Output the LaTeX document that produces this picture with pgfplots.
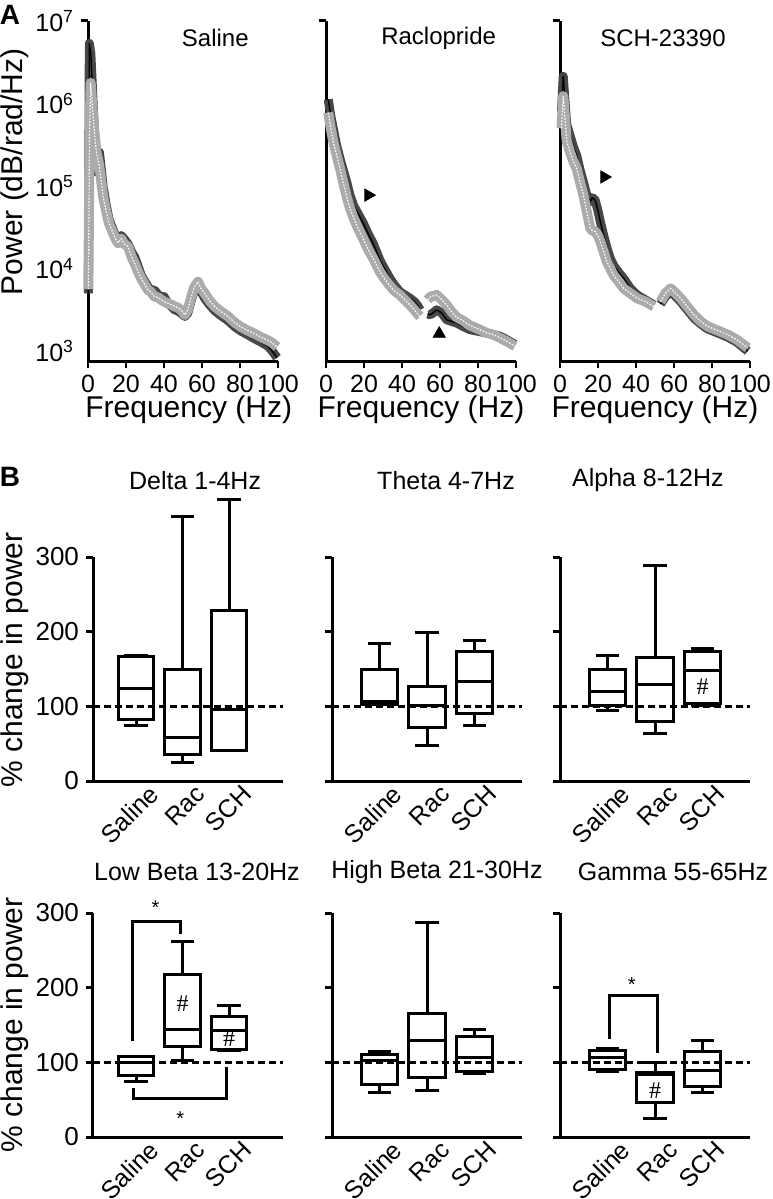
\documentclass[border=0pt]{standalone}
\usepackage{fontspec}
\setmainfont{Liberation Sans}
\newfontfamily\hashfont{Liberation Serif}
\usepackage{pgfplots}
\usepackage{pgfplotstable}
\pgfplotsset{compat=1.18}

% spectra: frequency (Hz), log10 power
\pgfplotstableread{
f p
0.2 3.70
0.7 6.73
1.5 6.60
2.5 6.10
3.5 5.60
4.4 5.17
5.3 5.30
6.0 5.41
7.0 5.20
8.0 4.98
9.5 4.78
11 4.60
13.2 4.47
14.5 4.40
15.8 4.36
17.5 4.40
19 4.36
21 4.30
23 4.20
24.6 4.14
26 4.05
28 3.92
30 3.84
31.6 3.78
33 3.74
35 3.74
37 3.68
38.6 3.66
40 3.66
42 3.58
44 3.54
45.6 3.50
47 3.49
49 3.46
51 3.42
52.5 3.46
54.4 3.62
56 3.74
57.9 3.82
59.5 3.72
61.4 3.64
64 3.56
66.7 3.49
70 3.43
73.7 3.37
77 3.30
80.7 3.24
84 3.20
87.7 3.15
91 3.11
94.7 3.06
97 3.00
99.5 2.92
}\salD
\pgfplotstableread{
f p
0.2 3.75
0.8 5.60
1.4 6.25
2.2 6.00
3.0 5.75
4.4 5.41
5.5 5.30
6.5 5.15
7.9 4.88
9.5 4.70
11 4.55
13.2 4.43
14.5 4.36
15.8 4.31
17.5 4.36
19 4.30
21 4.27
23 4.14
24.6 4.06
26 3.98
28 3.88
30 3.80
31.6 3.74
33 3.72
35 3.66
37 3.65
38.6 3.62
40 3.60
42 3.58
44 3.56
45.6 3.54
47 3.53
49 3.50
51 3.44
52.5 3.50
54.4 3.66
56 3.78
57.9 3.84
59.5 3.76
61.4 3.70
64 3.61
66.7 3.54
70 3.48
73.7 3.42
77 3.35
80.7 3.29
84 3.25
87.7 3.21
91 3.17
94.7 3.13
97 3.10
99.5 3.05
}\salG
\pgfplotstableread{
f p
1.2 6.05
2.5 5.85
3.9 5.69
5.5 5.50
7.4 5.33
9.0 5.20
10.9 5.05
12.5 4.90
14.4 4.77
17 4.66
19.6 4.55
22 4.43
24.9 4.30
28.4 4.10
31 3.99
33.7 3.88
36 3.80
38.9 3.72
41.5 3.68
44.2 3.64
46.5 3.60
48.6 3.54
49.5 3.50
51 nan
53.5 3.45
55 3.44
58.3 3.50
61 3.46
63.5 3.38
66 3.36
68.8 3.34
72 3.30
75.8 3.26
80 3.24
84.6 3.22
88 3.20
91.6 3.18
95 3.14
99.5 3.08
}\racD
\pgfplotstableread{
f p
1.2 5.89
2.5 5.70
3.9 5.53
5.5 5.38
7.4 5.21
9.0 5.05
10.9 4.87
12.5 4.74
14.4 4.62
17 4.48
19.6 4.36
22 4.24
24.9 4.12
28.4 3.96
31 3.87
33.7 3.79
36 3.73
38.9 3.68
41.5 3.62
44.2 3.56
46.5 3.50
48.6 3.44
49.5 3.42
51 nan
53.5 3.62
55 3.66
58.3 3.68
61 3.62
63.5 3.56
66 3.48
68.8 3.41
72 3.37
75.8 3.31
80 3.27
84.6 3.22
88 3.20
91.6 3.16
95 3.12
99.5 3.06
}\racG
\pgfplotstableread{
f p
0.8 5.90
1.7 6.33
2.7 6.00
3.5 5.75
5.3 5.61
7.0 5.48
8.8 5.37
10.5 5.20
12.3 5.05
14 4.90
15.9 4.81
17 4.86
18.5 4.83
20 4.70
21.2 4.57
23 4.40
24.7 4.25
26.5 4.12
28.2 4.04
31 3.95
33.5 3.88
37 3.76
40.6 3.68
45 3.62
49.4 3.56
51 nan
52.9 3.57
55.5 3.66
58.2 3.72
61 3.66
63.5 3.60
67 3.50
70.5 3.40
74 3.33
77.6 3.27
83 3.22
88.2 3.17
93 3.11
98.8 3.00
}\schD
\pgfplotstableread{
f p
0.8 5.70
1.7 6.09
2.7 5.80
3.5 5.55
5.3 5.41
7.0 5.30
8.8 5.21
10.5 5.05
12.3 4.89
14 4.70
15.9 4.49
17 4.46
18.5 4.45
20 4.40
21.2 4.33
23 4.20
24.7 4.08
26.5 4.00
28.2 3.92
31 3.84
33.5 3.76
37 3.70
40.6 3.64
45 3.60
49.4 3.54
51 nan
52.9 3.60
55.5 3.70
58.2 3.76
61 3.70
63.5 3.64
67 3.54
70.5 3.44
74 3.36
77.6 3.30
83 3.25
88.2 3.20
93 3.14
98.8 3.04
}\schG

\newcommand{\fs}[1]{\fontsize{#1}{#1}\selectfont}

% one box: position, lower whisker, Q1, median, Q3, upper whisker
\newcommand{\bx}[6]{%
  \pgfmathsetmacro\bxL{#1-0.385}%
  \pgfmathsetmacro\bxR{#1+0.385}%
  \pgfmathsetmacro\cpL{#1-0.22}%
  \pgfmathsetmacro\cpR{#1+0.22}%
  \addplot[bp] coordinates {(\bxL,#3) (\bxR,#3) (\bxR,#5) (\bxL,#5) (\bxL,#3)};
  \addplot[bp] coordinates {(\bxL,#4) (\bxR,#4)};
  \addplot[bp] coordinates {(#1,#5) (#1,#6)};
  \addplot[bp] coordinates {(\cpL,#6) (\cpR,#6)};
  \addplot[bp] coordinates {(#1,#3) (#1,#2)};
  \addplot[bp] coordinates {(\cpL,#2) (\cpR,#2)};
}

\pgfplotsset{
  spec/.style={
    scale only axis, width=95pt, height=170pt, anchor=south west,
    xmin=0, xmax=100, ymin=2.88, ymax=7,
    axis lines*=left,
    axis line style={line width=1.5pt},
    xtick={0,20,...,100},
    xtick style={line width=1.2pt, black},
    xticklabel style={font=\fs{12.5}},
    yticklabel style={font=\fs{12.5}},
    ytick={7}, yticklabels={},
    ytick style={line width=1.5pt, black},
    tick align=outside, major tick length=3.5pt,
    /pgf/number format/assume math mode=true,
    unbounded coords=jump, clip=false,
  },
  darkband/.style={color=black!72, line width=4.5pt, line join=round},
  darkcore/.style={black, line width=0.7pt, line join=round},
  greyband/.style={color=black!33, line width=5pt, line join=round},
  greycore/.style={white, line width=0.6pt, dash pattern=on 0.8pt off 0.8pt},
  bxax/.style={
    scale only axis, width=95pt, height=112pt, anchor=south west,
    ymin=0, ymax=300,
    axis lines*=left,
    axis line style={line width=1.5pt},
    xtick={1,2,3}, xticklabels={Saline,Rac,SCH},
    xtick style={draw=none},
    xticklabel style={rotate=45, anchor=east, font=\fs{12.5}, xshift=9.2pt, yshift=-7pt},
    ytick={0,100,200,300},
    ytick style={line width=1.5pt, black},
    yticklabel style={font=\fs{13}},
    tick align=outside, major tick length=3.5pt,
    /pgf/number format/assume math mode=true,
    clip=false,
  },
  col1/.style={xmin=0.075, xmax=4.16},
  colr/.style={xmin=0, xmax=4.0, yticklabels={,,,}},
  bp/.style={black, line width=1.5pt, solid, line join=miter, line cap=rect},
  refline/.style={black, line width=1.3pt, dash pattern=on 3.5pt off 2pt},
  brk/.style={black, line width=1.5pt, sharp plot},
}

\begin{document}
\begin{tikzpicture}
\useasboundingbox (0,0) rectangle (386pt,-599.5pt);

% ---------- A: spectra ----------
\begin{axis}[spec, at={(44pt,-180.5pt)},
  yticklabels={10\textsuperscript{7}},
  extra y ticks={3,4,5,6},
  extra y tick labels={10\textsuperscript{3},10\textsuperscript{4},10\textsuperscript{5},10\textsuperscript{6}},
  extra y tick style={tick style={draw=none}}]
\addplot[darkband] table {\salD};
\addplot[darkcore] table {\salD};
\addplot[greyband] table {\salG};
\addplot[greycore] table {\salG};
\node[font=\fs{12}] at (axis cs:67,6.79) {Saline};
\node[rotate=90, font=\fs{15}] at (rel axis cs:-0.385,0.556) {Power (dB/rad/Hz)};
\node[font=\fs{15}] at (rel axis cs:0.53,-0.144) {Frequency (Hz)};
\node[font=\bfseries\fs{14}] at (rel axis cs:-0.41,1.018) {A};
\end{axis}

\begin{axis}[spec, at={(163pt,-180.5pt)}]
\addplot[darkband] table {\racD};
\addplot[darkcore] table {\racD};
\addplot[greyband] table {\racG};
\addplot[greycore] table {\racG};
\addplot[only marks, mark=triangle*, mark size=3.5pt, black, mark options={rotate=-90}] coordinates {(22.3,4.89)};
\addplot[only marks, mark=triangle*, mark size=3.5pt, black] coordinates {(59.6,3.21)};
\node[font=\fs{12}] at (axis cs:59.3,6.79) {Raclopride};
\node[font=\fs{15}] at (rel axis cs:0.5,-0.144) {Frequency (Hz)};
\end{axis}

\begin{axis}[spec, at={(280pt,-180.5pt)}]
\addplot[darkband] table {\schD};
\addplot[darkcore] table {\schD};
\addplot[greyband] table {\schG};
\addplot[greycore] table {\schG};
\addplot[only marks, mark=triangle*, mark size=3.5pt, black, mark options={rotate=-90}] coordinates {(23.3,5.11)};
\node[font=\fs{12}] at (axis cs:54.2,6.79) {SCH-23390};
\node[font=\fs{15}] at (rel axis cs:0.5,-0.144) {Frequency (Hz)};
\end{axis}

% ---------- B: box plots, row 1 ----------
\begin{axis}[bxax, col1, at={(46.5pt,-390.5pt)}]
\bx{1}{74}{82}{124}{167}{168}
\bx{2}{25}{35}{58}{149}{354}
\bx{3}{41}{41}{96}{228}{377}
\addplot[refline] coordinates {(0.075,100) (4.16,100)};
\node[font=\fs{12.5}] at (axis cs:2.27,403) {Delta 1-4Hz};
\node[rotate=90, font=\fs{15}] at (rel axis cs:-0.41,0.54) {\% change in power};
\node[font=\bfseries\fs{14}] at (rel axis cs:-0.437,1.357) {B};
\end{axis}

\begin{axis}[bxax, colr, at={(166pt,-390.5pt)}]
\bx{1}{102}{103}{106}{149}{184}
\bx{2}{47}{72}{101}{126}{199}
\bx{3}{75}{91}{133}{174}{188}
\addplot[refline] coordinates {(0,100) (4,100)};
\node[font=\fs{12.5}] at (axis cs:2.4,403) {Theta 4-7Hz};
\end{axis}

\begin{axis}[bxax, colr, at={(280pt,-390.5pt)}]
\bx{1}{94}{101}{120}{150}{168}
\bx{2}{63}{80}{129}{165}{288}
\bx{3}{101}{104}{148}{174}{177}
\addplot[refline] coordinates {(0,100) (4,100)};
\node[font=\hashfont\fs{12}] at (axis cs:3,127) {\#};
\node[font=\fs{12.5}] at (axis cs:1.85,403) {Alpha 8-12Hz};
\end{axis}

% ---------- B: box plots, row 2 ----------
\begin{axis}[bxax, col1, at={(46.5pt,-568.5pt)}]
\bx{1}{74}{82}{100}{108}{108}
\bx{2}{102}{121}{144}{218}{262}
\bx{3}{116}{117}{142}{162}{176}
\addplot[refline] coordinates {(0.075,100) (4.16,100)};
\addplot[brk] coordinates {(0.93,128) (0.93,289) (1.95,289) (1.95,272)};
\addplot[brk] coordinates {(0.95,65) (0.95,51) (2.95,51) (2.95,94)};
\node[font=\fs{10}] at (axis cs:1.42,307) {*};
\node[font=\fs{10}] at (axis cs:1.95,25) {*};
\node[font=\hashfont\fs{12}] at (axis cs:2,178) {\#};
\node[font=\hashfont\fs{12}] at (axis cs:3,132) {\#};
\node[font=\fs{12.5}] at (axis cs:2.31,355) {Low Beta 13-20Hz};
\node[rotate=90, font=\fs{15}] at (rel axis cs:-0.41,0.5) {\% change in power};
\end{axis}

\begin{axis}[bxax, colr, at={(166pt,-568.5pt)}]
\bx{1}{59}{70}{103}{110}{115}
\bx{2}{62}{80}{129}{165}{287}
\bx{3}{85}{88}{107}{134}{144}
\addplot[refline] coordinates {(0,100) (4,100)};
\node[font=\fs{12.5}] at (axis cs:2.21,355) {High Beta 21-30Hz};
\end{axis}

\begin{axis}[bxax, colr, at={(280pt,-568.5pt)}]
\bx{1}{88}{91}{106}{116}{118}
\bx{2}{25}{46}{84}{87}{100}
\bx{3}{60}{67}{89}{115}{129}
\addplot[refline] coordinates {(0,100) (4,100)};
\addplot[brk] coordinates {(1.05,131) (1.05,189) (2.05,189) (2.05,112)};
\node[font=\fs{10}] at (axis cs:1.51,204) {*};
\node[font=\hashfont\fs{12}] at (axis cs:2,62) {\#};
\node[font=\fs{12.5}] at (axis cs:2.38,355) {Gamma 55-65Hz};
\end{axis}
\end{tikzpicture}
\end{document}
